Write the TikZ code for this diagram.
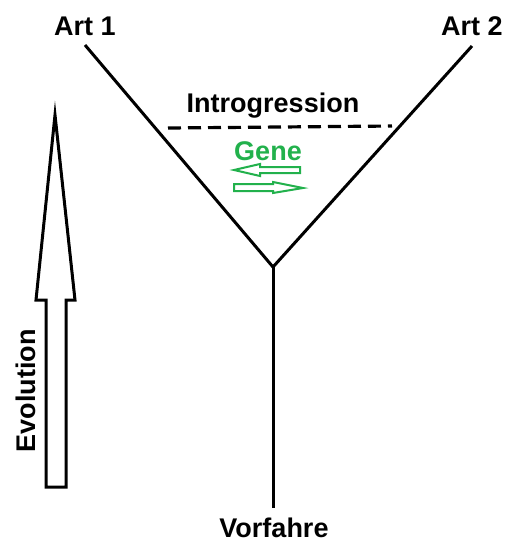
\documentclass[tikz,border=0pt]{standalone}
\usepackage{fontspec}
\setmainfont{Liberation Sans}
\definecolor{paintgreen}{RGB}{34,177,76}
\begin{document}
\begin{tikzpicture}[x=1pt,y=-1pt,
  lbl/.style={font=\fontsize{27}{30}\selectfont\bfseries, inner sep=0pt, anchor=base},
  branch/.style={line width=3pt, line join=miter},
  hollow/.style={draw=paintgreen, line width=2pt, fill=white, line join=miter}]
  \useasboundingbox (0,0) rectangle (506,542);

  % tree
  \coordinate (a1) at (85,45);
  \coordinate (a2) at (472,46);
  \coordinate (j) at (273,267);
  \coordinate (root) at (273,508);
  \draw[branch] (a1) -- (j) -- (a2);
  \draw[branch] (j) -- (root);

  % labels
  \node[lbl] (art1) at (85,35) {Art 1};
  \node[lbl] (art2) at (472,35) {Art 2};
  \node[lbl] (vorf) at (274,537) {Vorfahre};
  \node[lbl] (intro) at (273,112) {Introgression};
  \node[lbl, text=paintgreen] (gene) at (268,160) {Gene};

  % introgression boundary
  \coordinate (d1) at (168,128);
  \coordinate (d2) at (392,126);
  \draw[line width=3.2pt, dash pattern=on 13pt off 7pt] (d1) -- (d2);

  % gene flow arrows
  \draw[hollow] (234,170) -- (260,164) -- (260,167) -- (300,167) -- (300,173)
    -- (260,173) -- (260,176) -- cycle;
  \draw[hollow] (303,188) -- (273,182) -- (273,184) -- (234,184) -- (234,191)
    -- (273,191) -- (273,193) -- cycle;

  % evolution arrow
  \draw[line width=3pt, line join=miter, fill=white]
    (55,115) -- (75,300) -- (66,300) -- (66,487) -- (46,487) -- (46,300)
    -- (36,300) -- cycle;
  \node[lbl, rotate=90] (evo) at (35,391) {Evolution};
\end{tikzpicture}
\end{document}
